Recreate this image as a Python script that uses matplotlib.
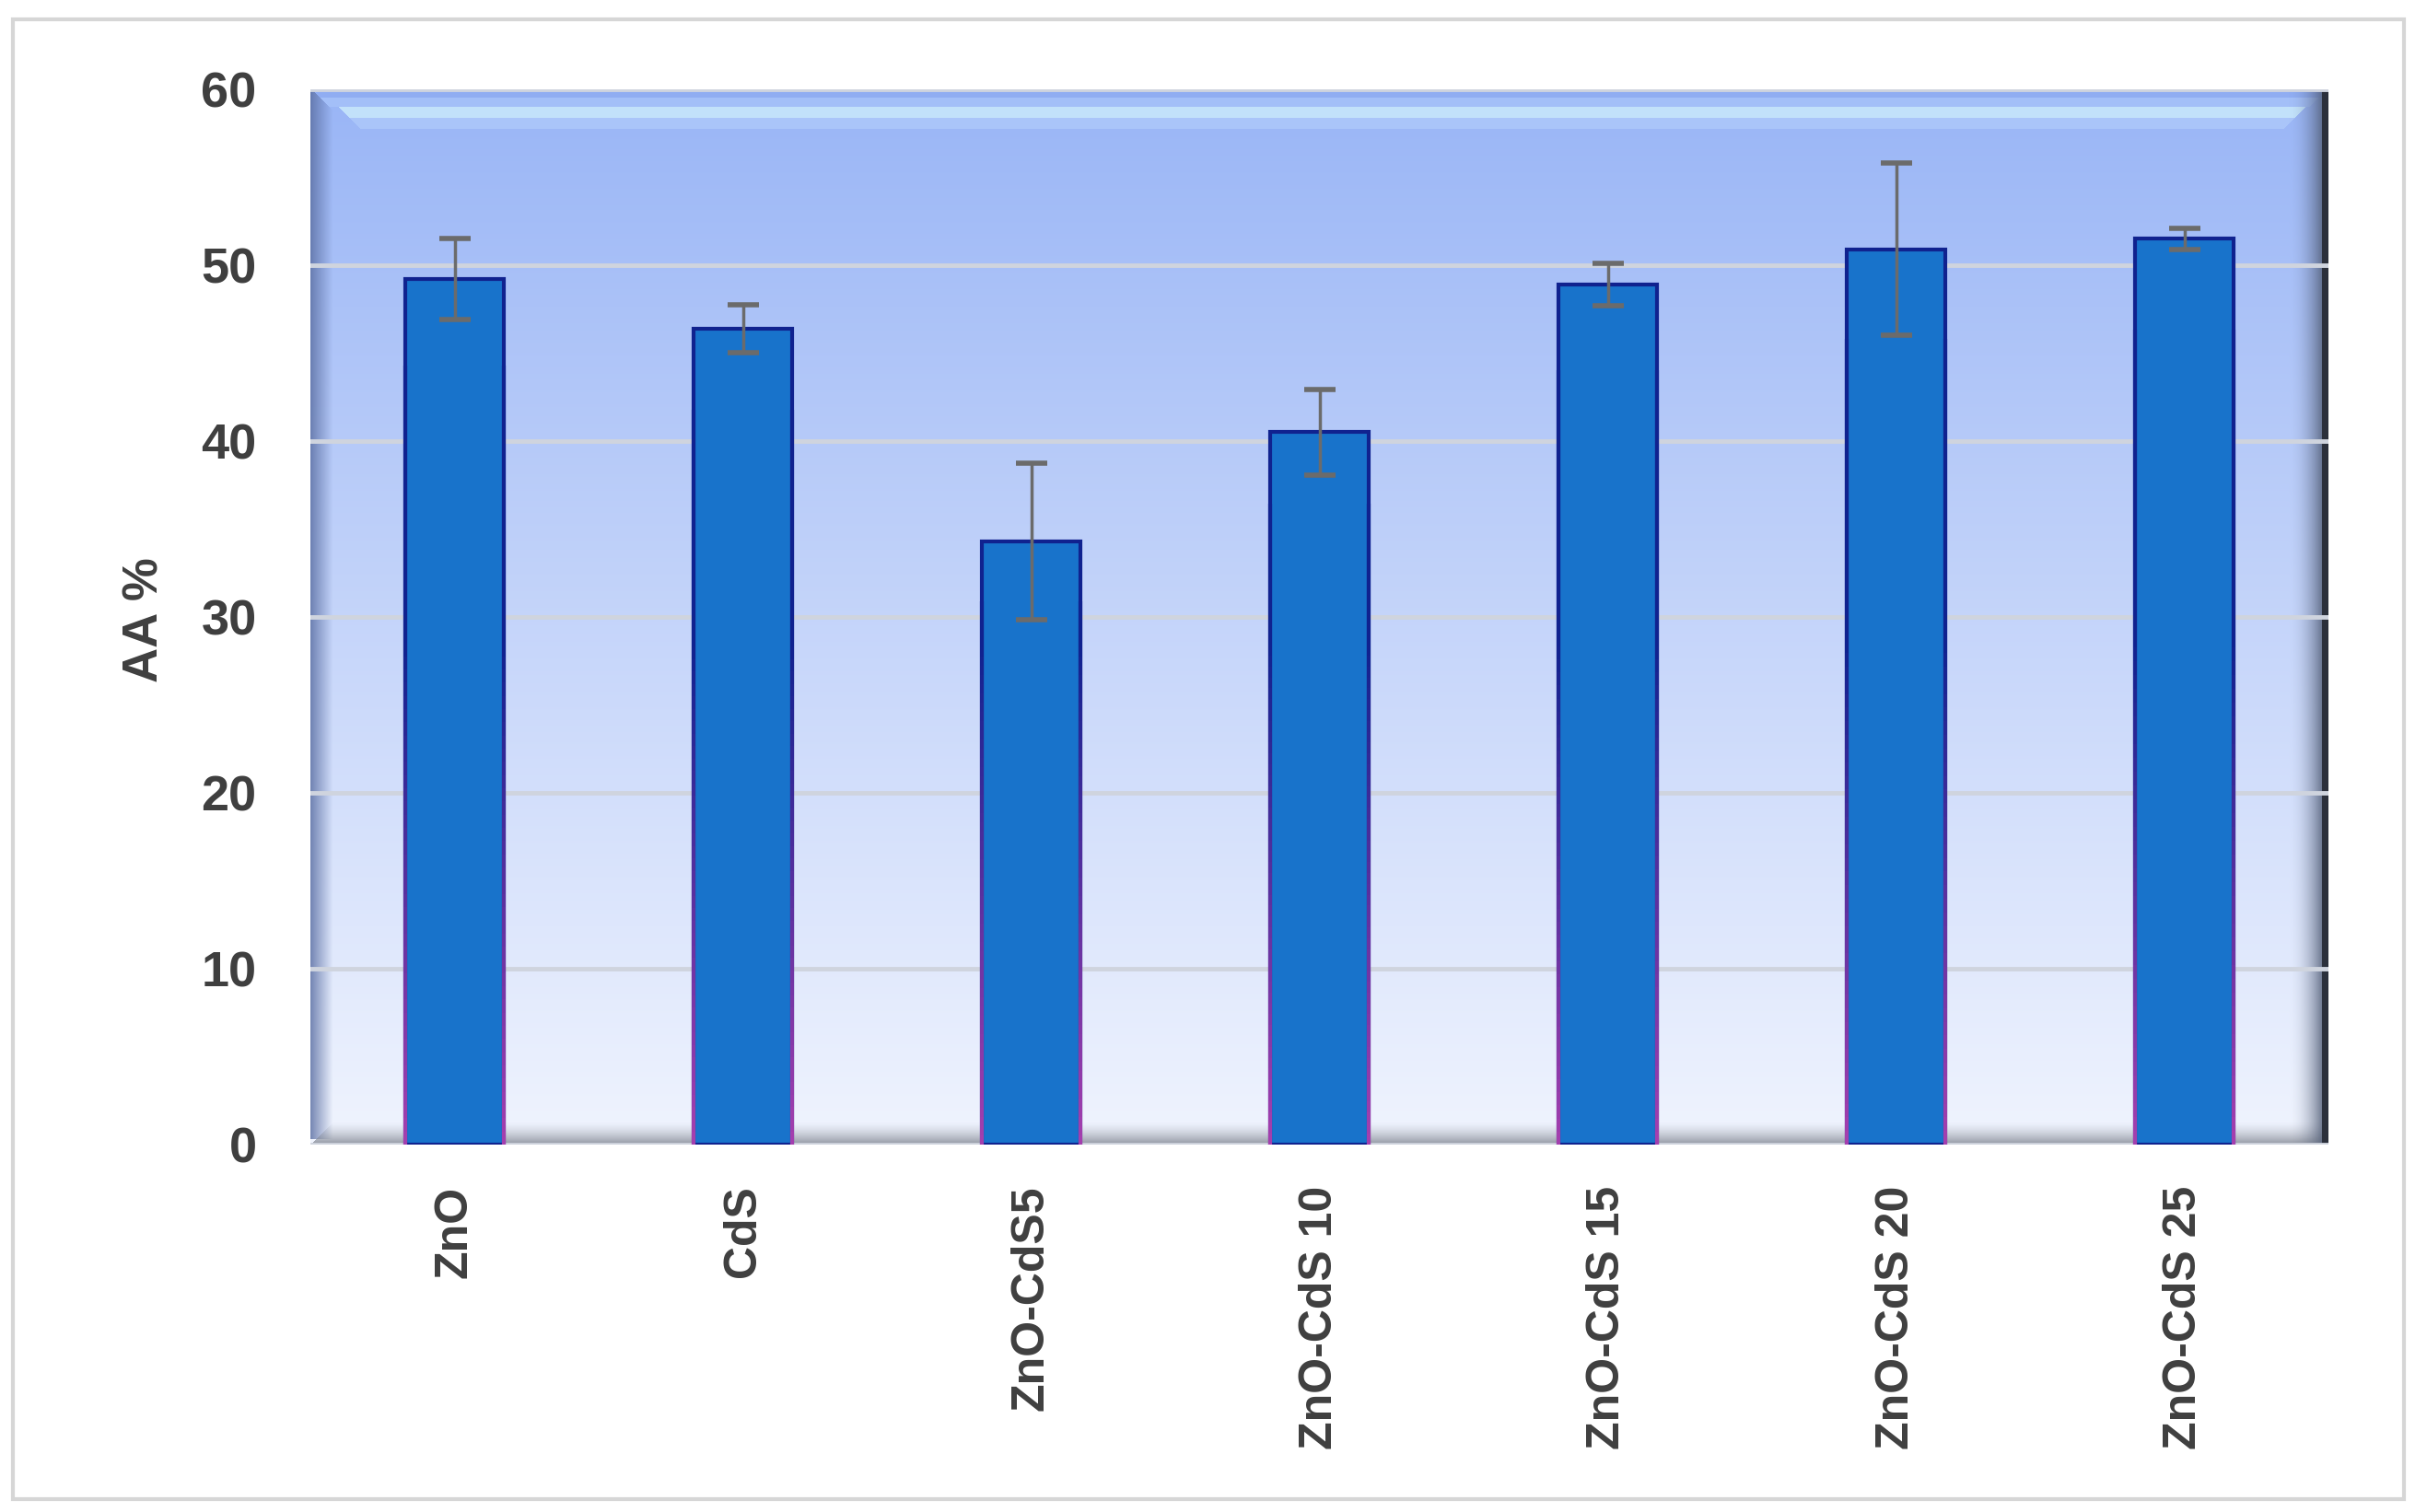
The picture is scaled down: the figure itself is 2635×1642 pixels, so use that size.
import numpy as np
import matplotlib
matplotlib.use('Agg')
import matplotlib.pyplot as plt
from matplotlib.patches import Rectangle
from matplotlib.collections import LineCollection

muestras = ['ZnO', 'CdS', 'ZnO-CdS5', 'ZnO-CdS 10', 'ZnO-CdS 15', 'ZnO-CdS 20', 'ZnO-CdS 25']
aa = [49.2, 46.4, 34.3, 40.5, 48.9, 50.9, 51.5]
err = [2.3, 1.35, 4.45, 2.45, 1.2, 4.9, 0.6]
yticks = [0, 10, 20, 30, 40, 50, 60]

plt.rcParams['font.family'] = ['Liberation Sans', 'DejaVu Sans']

def hexc(h):
    return np.array([int(h[i:i+2], 16) for i in (1, 3, 5)]) / 255.

# fondo con degradado y bordes biselados (estilo excel)
H, W = 1147, 2191
py = np.arange(H)[:, None] + 0.5
px = np.arange(W)[None, :] + 0.5
t = np.broadcast_to(py / H, (H, W))[..., None]
img = hexc('#99b5f6') * (1 - t) + hexc('#f0f4fe') * t
img = img.copy()

def paint(mask, col, a=1.0):
    m = mask[..., None] * a
    img[:] = img * (1 - m) + hexc(col) * m

PX = np.broadcast_to(px, (H, W))
PY = np.broadcast_to(py, (H, W))
# banda superior
paint((PY < 10) & (PX > PY), '#90adf2')
paint((PY >= 10) & (PY < 20) & (PX > PY) & (PX < W - PY), '#a3bff8')
paint((PY >= 20) & (PY < 32) & (PX > PY + 10) & (PX < W - PY - 4), '#c9e9fb', 0.85)
paint((PY >= 32) & (PY < 44) & (PX > PY + 10) & (PX < W - PY - 4), '#aac5f9')
# pared izquierda
for k in range(24):
    a = 0.8 * (1 - k / 24.)
    paint((PX >= k) & (PX < k + 1) & (PY > k) & (PY < H - 6), '#5a6ea2', a)
# suelo
for k in range(26):
    a = 0.85 * (k / 26.) ** 1.5
    paint((PY >= H - 26 + k) & (PY < H - 25 + k) & (PX > 26 - k), '#7d828d', a)
# pared derecha
for k in range(38):
    a = 0.85 * (k / 38.) ** 2
    paint((PX >= W - 44 + k) & (PX < W - 43 + k), '#4f5b74', a)
paint(PX >= W - 7, '#2b303b')

fig = plt.figure(figsize=(26.35, 16.42), dpi=100)
ax = fig.add_axes([337 / 2635, 1 - 1243 / 1642, (2528 - 337) / 2635, (1243 - 97) / 1642])
ax.imshow(img, extent=(0, 1, 0, 1), transform=ax.transAxes, aspect='auto', zorder=0, interpolation='bilinear')

x = np.arange(len(muestras))
bars = ax.bar(x, aa, width=0.34, color='#1873cb', edgecolor='#10228f', linewidth=3, zorder=3)

navy = hexc('#10228f')
purp = hexc('#a33fae')
for b in bars:
    x0, x1, h = b.get_x(), b.get_x() + b.get_width(), b.get_height()
    ys = np.linspace(0, h * 0.9, 60)
    segs = []
    cols = []
    for xe in (x0, x1):
        for i in range(len(ys) - 1):
            segs.append([(xe, ys[i]), (xe, ys[i + 1])])
            f = min(ys[i] / 28., 1.0)
            cols.append(purp * (1 - f) + navy * f)
    ax.add_collection(LineCollection(segs, colors=cols, linewidths=3, zorder=3.5))

ax.errorbar(x, aa, yerr=err, fmt='none', ecolor='#6b6b6b', elinewidth=2.5, capsize=12, capthick=4, zorder=4)

ax.set_xlim(-0.5, len(muestras) - 0.5)
ax.set_ylim(0, 60)
ax.set_yticks(yticks)
ax.set_yticklabels([str(v) for v in yticks], fontsize=39, fontweight='bold', color='#3f3f3f')
ax.set_xticks(x)
ax.set_xticklabels(muestras, rotation=90, fontsize=36, fontweight='bold', color='#3f3f3f')
ax.tick_params(axis='y', length=0, pad=42)
ax.tick_params(axis='x', length=0, pad=32)
ax.set_axisbelow(True)
ax.yaxis.grid(True, color='#cfd4de', linewidth=3.5)
for s in ax.spines.values():
    s.set_visible(False)

fig.text(157 / 2635, 1 - 673 / 1642, 'AA %', rotation=90, ha='center', va='center',
         fontsize=38, fontweight='bold', color='#3f3f3f')

fig.add_artist(Rectangle((14 / 2635, 1 - 1628 / 1642), (2610 - 14) / 2635, (1628 - 21) / 1642,
                         transform=fig.transFigure, fill=False, edgecolor='#d6d6d6', linewidth=3))

fig.savefig('out.png', dpi=100, facecolor='white')
